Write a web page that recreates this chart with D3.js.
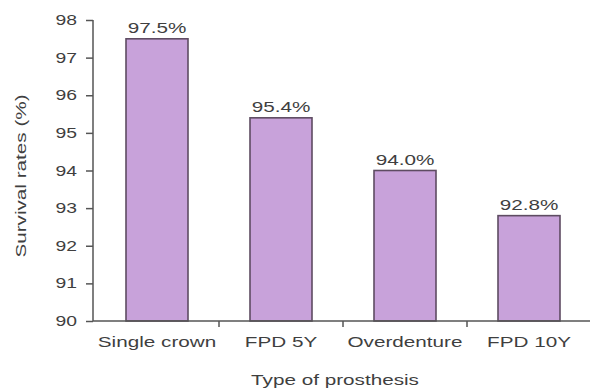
<!DOCTYPE html>
<html>
<head>
<meta charset="utf-8">
<script src="https://cdn.jsdelivr.net/npm/d3@7"></script>
<style>
  html, body { margin: 0; padding: 0; background: #fff; }
  svg { display: block; font-family: "Liberation Sans", Arial, sans-serif; }
</style>
</head>
<body>
<svg id="chart" width="590" height="392"></svg>
<script>
// Prosthesis survival rates
const categories = ["Single crown", "FPD 5Y", "Overdenture", "FPD 10Y"];
const survival = [97.5, 95.4, 94.0, 92.8];
const valueLabels = ["97.5%", "95.4%", "94.0%", "92.8%"];
const yTicks = [90, 91, 92, 93, 94, 95, 96, 97, 98];

const svg = d3.select("#chart");
const plot = { left: 93, right: 591, top: 20, bottom: 321 };
const textColor = "#3f3f3f";
const axisColor = "#555";
const wide = 1.38; // horizontal stretch of the wide typeface

const x = d3.scaleBand().domain(categories).range([95, plot.right]).paddingInner(0.5).paddingOuter(0.25);
const y = d3.scaleLinear().domain([90, 98]).range([plot.bottom, plot.top]);

// place a horizontally widened label
function label(g, px, py, txt, size, anchor, extra) {
  return g.append("text")
    .attr("transform", `translate(${px},${py})${extra || ""} scale(${wide},1)`)
    .attr("text-anchor", anchor || "middle")
    .attr("font-size", size)
    .attr("fill", textColor)
    .text(txt);
}

// bars
svg.append("g").selectAll("rect")
  .data(categories)
  .join("rect")
  .attr("x", d => x(d))
  .attr("y", (d, i) => y(survival[i]))
  .attr("width", x.bandwidth())
  .attr("height", (d, i) => plot.bottom - y(survival[i]))
  .attr("fill", "#c8a2da")
  .attr("stroke", "#5e4c62")
  .attr("stroke-width", 1.6);

// value labels
const vals = svg.append("g");
categories.forEach((c, i) => {
  label(vals, x(c) + x.bandwidth() / 2, y(survival[i]) - 6, valueLabels[i], 15);
});

// y axis
const yAxis = svg.append("g")
  .attr("transform", `translate(${plot.left},0)`)
  .call(d3.axisLeft(y).tickValues(yTicks).tickSize(7).tickFormat(""));
yAxis.select(".domain").attr("stroke", axisColor).attr("stroke-width", 1.5).attr("d", `M0,${plot.top}V${plot.bottom}`);
yAxis.selectAll(".tick line").attr("stroke", axisColor).attr("stroke-width", 1.5);

const yLabels = svg.append("g");
yTicks.forEach(t => {
  label(yLabels, plot.left - 16, y(t) + 5, d3.format("d")(t), 14, "end");
});

// x axis baseline with ticks between categories
const xAxisG = svg.append("g");
xAxisG.append("line")
  .attr("x1", plot.left).attr("x2", 590)
  .attr("y1", plot.bottom).attr("y2", plot.bottom)
  .attr("stroke", axisColor).attr("stroke-width", 1.5);
const gap = (x.step() - x.bandwidth()) / 2;
xAxisG.selectAll("line.sep")
  .data(categories.slice(1))
  .join("line")
  .attr("class", "sep")
  .attr("x1", d => x(d) - gap)
  .attr("x2", d => x(d) - gap)
  .attr("y1", plot.bottom).attr("y2", plot.bottom + 6)
  .attr("stroke", axisColor).attr("stroke-width", 1.5);

categories.forEach(c => {
  label(xAxisG, x(c) + x.bandwidth() / 2, plot.bottom + 26, c, 15);
});

// axis titles
label(svg, 335, 385, "Type of prosthesis", 15);
label(svg, 26, 176, "Survival rates (%)", 15, "middle", " rotate(-90)");
</script>
</body>
</html>
